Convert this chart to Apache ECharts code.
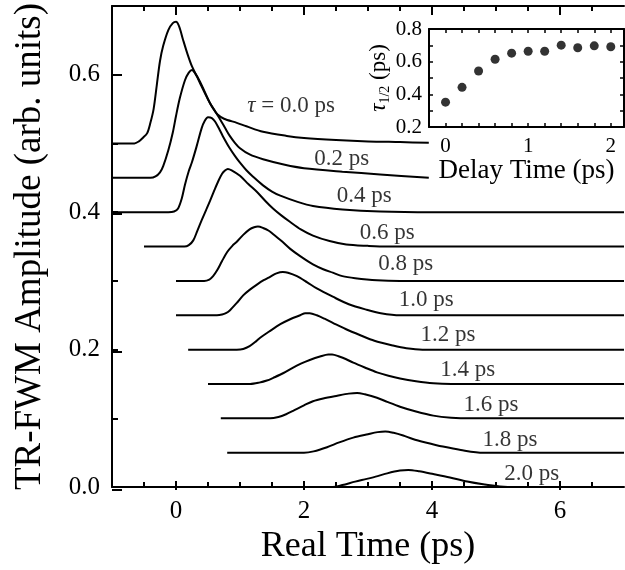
<!DOCTYPE html>
<html><head><meta charset="utf-8">
<script src="https://cdn.jsdelivr.net/npm/echarts@6/dist/echarts.min.js"></script>
<style>html,body{margin:0;padding:0;background:#fff}#c{width:625px;height:570px}</style>
</head><body><div id="c"></div>
<script>
// ---- Data ----
const tau00 = [[-1,0.5],[-0.8,0.5],[-0.65,0.5],[-0.58,0.503],[-0.52,0.508],[-0.45,0.515],[-0.4,0.53],[-0.35,0.55],[-0.3,0.585],[-0.25,0.62],[-0.2,0.642],[-0.12,0.665],[-0.05,0.675],[0,0.677],[0.05,0.67],[0.11,0.651],[0.18,0.63],[0.25,0.612],[0.33,0.597],[0.40,0.583],[0.5,0.564],[0.58,0.551],[0.65,0.542],[0.75,0.536],[0.95,0.530],[1.1,0.525],[1.36,0.517],[1.73,0.511],[2.0,0.508],[2.5,0.505],[3.0,0.503],[3.5,0.502],[3.95,0.501]];
const tau02 = [[-1,0.45],[-0.6,0.45],[-0.4,0.45],[-0.32,0.452],[-0.25,0.458],[-0.2,0.467],[-0.12,0.49],[-0.05,0.516],[0.0,0.54],[0.06,0.566],[0.14,0.592],[0.2,0.603],[0.25,0.607],[0.3,0.602],[0.375,0.59],[0.45,0.575],[0.53,0.559],[0.61,0.547],[0.69,0.535],[0.77,0.522],[0.84,0.511],[0.92,0.501],[1.0,0.493],[1.15,0.484],[1.36,0.477],[1.7,0.469],[2.0,0.464],[2.6,0.459],[3.19,0.455],[3.95,0.45]];
const tau04 = [[-1,0.4],[-0.5,0.4],[-0.12,0.4],[-0.03,0.401],[0.03,0.405],[0.09,0.42],[0.14,0.44],[0.2,0.46],[0.25,0.473],[0.32,0.495],[0.40,0.522],[0.45,0.533],[0.5,0.538],[0.56,0.537],[0.61,0.532],[0.67,0.522],[0.73,0.511],[0.84,0.493],[0.92,0.482],[1.0,0.472],[1.1,0.461],[1.2,0.452],[1.36,0.439],[1.5,0.43],[1.63,0.424],[1.9,0.415],[2.14,0.409],[2.6,0.404],[3.19,0.401],[4,0.4],[5.5,0.4],[7,0.4]];
const tau06 = [[-0.5,0.35],[0,0.35],[0.13,0.35],[0.2,0.352],[0.27,0.359],[0.33,0.372],[0.40,0.388],[0.47,0.403],[0.53,0.416],[0.6,0.432],[0.66,0.445],[0.72,0.456],[0.77,0.461],[0.81,0.463],[0.87,0.461],[1.0,0.453],[1.13,0.441],[1.27,0.429],[1.4,0.416],[1.52,0.405],[1.65,0.395],[1.78,0.386],[1.95,0.375],[2.14,0.366],[2.4,0.358],[2.66,0.353],[3.0,0.351],[3.3,0.35],[5,0.35],[7,0.35]];
const tau08 = [[0,0.3],[0.3,0.3],[0.44,0.3],[0.52,0.302],[0.58,0.307],[0.64,0.315],[0.72,0.329],[0.8,0.342],[0.88,0.351],[0.95,0.357],[1.05,0.367],[1.15,0.375],[1.22,0.378],[1.28,0.379],[1.36,0.377],[1.45,0.373],[1.52,0.368],[1.65,0.358],[1.78,0.347],[1.94,0.336],[2.14,0.324],[2.3,0.317],[2.45,0.312],[2.6,0.307],[2.8,0.304],[3.14,0.301],[3.5,0.3],[5,0.3],[7,0.3]];
const tau10 = [[0,0.25],[0.4,0.25],[0.64,0.25],[0.72,0.251],[0.78,0.253],[0.84,0.257],[0.95,0.268],[1.05,0.279],[1.15,0.287],[1.27,0.295],[1.37,0.301],[1.47,0.306],[1.57,0.311],[1.67,0.313],[1.75,0.312],[1.89,0.307],[2.05,0.298],[2.2,0.289],[2.45,0.277],[2.7,0.266],[2.98,0.258],[3.2,0.253],[3.5,0.25],[5,0.25],[7,0.25]];
const tau12 = [[0.19,0.2],[0.6,0.2],[0.95,0.2],[1.05,0.201],[1.15,0.205],[1.25,0.212],[1.31,0.217],[1.45,0.226],[1.63,0.237],[1.8,0.245],[1.94,0.25],[2.02,0.253],[2.09,0.253],[2.2,0.25],[2.32,0.245],[2.45,0.239],[2.65,0.23],[2.88,0.221],[3.1,0.213],[3.39,0.206],[3.6,0.202],[3.85,0.2],[5.3,0.2],[7,0.2]];
const tau14 = [[0.5,0.15],[0.9,0.15],[1.16,0.15],[1.3,0.152],[1.42,0.155],[1.52,0.159],[1.68,0.166],[1.83,0.174],[1.96,0.18],[2.09,0.185],[2.25,0.19],[2.38,0.193],[2.44,0.193],[2.55,0.19],[2.66,0.186],[2.77,0.181],[2.95,0.174],[3.14,0.167],[3.32,0.162],[3.5,0.158],[3.75,0.154],[4.02,0.151],[4.3,0.15],[5.6,0.15],[7,0.15]];
const tau16 = [[0.7,0.1],[1.1,0.1],[1.47,0.1],[1.6,0.102],[1.72,0.106],[1.83,0.111],[2.0,0.119],[2.14,0.125],[2.3,0.129],[2.52,0.133],[2.7,0.136],[2.83,0.137],[2.95,0.135],[3.14,0.13],[3.3,0.124],[3.5,0.117],[3.75,0.11],[4.02,0.104],[4.3,0.101],[4.6,0.1],[5.8,0.1],[7,0.1]];
const tau18 = [[0.8,0.05],[1.5,0.05],[2.0,0.05],[2.15,0.052],[2.36,0.058],[2.55,0.065],[2.77,0.072],[3.0,0.077],[3.15,0.08],[3.27,0.081],[3.4,0.079],[3.55,0.075],[3.7,0.07],[3.9,0.065],[4.17,0.059],[4.45,0.054],[4.8,0.05],[5.2,0.05],[6.1,0.05],[7,0.05]];
const tau20 = [[1.0,0],[2.0,0],[2.45,0],[2.6,0.003],[2.8,0.008],[2.98,0.012],[3.15,0.016],[3.3,0.02],[3.5,0.024],[3.63,0.025],[3.8,0.023],[4.02,0.019],[4.28,0.014],[4.55,0.008],[4.8,0.004],[5.06,0.001],[5.3,0],[6.2,0],[7,0]];
const curves = [tau00,tau02,tau04,tau06,tau08,tau10,tau12,tau14,tau16,tau18,tau20];

const curveLabels = ['{it|τ} = 0.0 ps','0.2 ps','0.4 ps','0.6 ps','0.8 ps','1.0 ps','1.2 ps','1.4 ps','1.6 ps','1.8 ps','2.0 ps'];
const labelX = [1.80,2.59,2.94,3.30,3.59,3.91,4.25,4.56,4.92,5.22,5.56];
const labelY = [0.555,0.477,0.424,0.370,0.324,0.272,0.221,0.171,0.120,0.069,0.019];

const delayTime = [0,0.2,0.4,0.6,0.8,1.0,1.2,1.4,1.6,1.8,2.0];
const tauHalf   = [0.352,0.443,0.543,0.615,0.652,0.664,0.664,0.701,0.685,0.697,0.691];

const mainXMinorTicks = [-0.5,0,0.5,1,1.5,2,2.5,3,3.5,4,4.5,5,5.5,6,6.5];
const mainXMajorTicks = [0,2,4,6];
const mainYMinorTicks = [0.1,0.2,0.3,0.4,0.5,0.6];
const mainYMajorTicks = [0,0.2,0.4,0.6];
const insetXTicks = [0,0.2,0.4,0.6,0.8,1.0,1.2,1.4,1.6,1.8,2.0];
const insetXLabels = [0,1,2];
const insetYTicks = [0.3,0.4,0.5,0.6,0.7];
const insetYLabels = [0.2,0.4,0.6,0.8];

// ---- Chart ----
const FONT = 'Liberation Serif';
const BLACK = '#000';
const chart = echarts.init(document.getElementById('c'), null, {renderer:'canvas'});

const mainRect = {left:112, right:1, top:6, bottom:80};
const insetRect = {left:429, right:1, top:29, bottom:443};

const series = curves.map((d,i)=>({
  type:'line', xAxisIndex:0, yAxisIndex:0, data:d, showSymbol:false, symbol:'none',
  smooth:0.3,
  lineStyle:{color:BLACK, width:2}, silent:true, z:3
}));
series.push({
  type:'scatter', xAxisIndex:0, yAxisIndex:0, symbolSize:0, silent:true, z:4,
  data: labelX.map((x,i)=>[x,labelY[i],curveLabels[i]]),
  label:{show:true, position:'inside', color:BLACK, fontFamily:FONT, fontSize:23,
    formatter:p=>p.data[2],
    rich:{it:{fontStyle:'italic', fontFamily:FONT, fontSize:23, color:BLACK}}}
});
series.push({
  type:'scatter', xAxisIndex:4, yAxisIndex:2, symbol:'circle', symbolSize:9, silent:true, z:5,
  itemStyle:{color:BLACK}, data: delayTime.map((x,i)=>[x,tauHalf[i]])
});

const lineStyle = {color:BLACK, width:2};
const option = {
  backgroundColor:'#fff',
  animation:false,
  grid:[
    Object.assign({containLabel:false}, mainRect),
    Object.assign({containLabel:false}, mainRect),
    Object.assign({containLabel:false, show:true, backgroundColor:'#fff', borderWidth:0, z:2}, insetRect)
  ],
  xAxis:[
    {gridIndex:0, type:'value', position:'bottom', min:-1, max:7,
     axisLine:{show:true, onZero:false, lineStyle},
     axisTick:{show:true, inside:true, length:5, customValues:mainXMinorTicks, lineStyle:{color:BLACK,width:2}},
     axisLabel:{show:true, customValues:mainXMajorTicks, margin:12, color:BLACK, fontFamily:FONT, fontSize:25, formatter:v=>String(v)},
     splitLine:{show:false},
     name:'Real Time (ps)', nameLocation:'middle', nameGap:41,
     nameTextStyle:{fontFamily:FONT, fontSize:36, color:BLACK}},
    {gridIndex:0, type:'value', position:'top', min:-1, max:7,
     axisLine:{show:true, onZero:false, lineStyle},
     axisTick:{show:true, inside:true, length:5, customValues:mainXMinorTicks, lineStyle:{color:BLACK,width:2}},
     axisLabel:{show:false}, splitLine:{show:false}},
    {gridIndex:1, type:'value', position:'bottom', min:-1, max:7,
     axisLine:{show:false, onZero:false},
     axisTick:{show:true, inside:true, length:9, customValues:mainXMajorTicks, lineStyle:{color:BLACK,width:2}},
     axisLabel:{show:false}, splitLine:{show:false}},
    {gridIndex:1, type:'value', position:'top', min:-1, max:7,
     axisLine:{show:false, onZero:false},
     axisTick:{show:true, inside:true, length:9, customValues:mainXMajorTicks, lineStyle:{color:BLACK,width:2}},
     axisLabel:{show:false}, splitLine:{show:false}},
    {gridIndex:2, type:'value', position:'bottom', min:-0.2, max:2.16, z:6,
     axisLine:{show:true, onZero:false, lineStyle},
     axisTick:{show:true, inside:true, length:4, customValues:insetXTicks, lineStyle:{color:BLACK,width:1.5}},
     axisLabel:{show:true, customValues:insetXLabels, margin:9, color:BLACK, fontFamily:FONT, fontSize:21, formatter:v=>String(v)},
     splitLine:{show:false},
     name:'Delay Time (ps)', nameLocation:'middle', nameGap:26,
     nameTextStyle:{fontFamily:FONT, fontSize:27, color:BLACK}},
    {gridIndex:2, type:'value', position:'top', min:-0.2, max:2.16, z:6,
     axisLine:{show:true, onZero:false, lineStyle},
     axisTick:{show:true, inside:true, length:4, customValues:insetXTicks, lineStyle:{color:BLACK,width:1.5}},
     axisLabel:{show:false}, splitLine:{show:false}}
  ],
  yAxis:[
    {gridIndex:0, type:'value', position:'left', min:0, max:0.7,
     axisLine:{show:true, onZero:false, lineStyle},
     axisTick:{show:true, inside:true, length:6, customValues:mainYMinorTicks, lineStyle:{color:BLACK,width:2}},
     axisLabel:{show:true, customValues:mainYMajorTicks, margin:12, color:BLACK, fontFamily:FONT, fontSize:25, formatter:v=>v.toFixed(1)},
     splitLine:{show:false},
     name:'TR-FWM Amplitude (arb. units)', nameLocation:'middle', nameGap:63,
     nameTextStyle:{fontFamily:FONT, fontSize:37, color:BLACK}},
    {gridIndex:1, type:'value', position:'left', min:0, max:0.7,
     axisLine:{show:false, onZero:false},
     axisTick:{show:true, inside:true, length:10, customValues:mainYMajorTicks, lineStyle:{color:BLACK,width:2}},
     axisLabel:{show:false}, splitLine:{show:false}},
    {gridIndex:2, type:'value', position:'left', min:0.2, max:0.8, z:6,
     axisLine:{show:true, onZero:false, lineStyle},
     axisTick:{show:true, inside:true, length:4, customValues:insetYTicks, lineStyle:{color:BLACK,width:1.5}},
     axisLabel:{show:true, customValues:insetYLabels, margin:7, color:BLACK, fontFamily:FONT, fontSize:21, formatter:v=>v.toFixed(1)},
     splitLine:{show:false},
     name:'{t|τ}{s|1/2} (ps)', nameLocation:'middle', nameGap:36,
     nameTextStyle:{fontFamily:FONT, fontSize:23, color:BLACK,
       rich:{t:{fontFamily:FONT, fontSize:23, fontStyle:'italic', color:BLACK},
             s:{fontFamily:FONT, fontSize:14, color:BLACK, padding:[12,0,0,0]}}}},
    {gridIndex:2, type:'value', position:'right', min:0.2, max:0.8, z:6,
     axisLine:{show:true, onZero:false, lineStyle},
     axisTick:{show:true, inside:true, length:4, customValues:insetYTicks, lineStyle:{color:BLACK,width:1.5}},
     axisLabel:{show:false}, splitLine:{show:false}}
  ],
  series
};
chart.setOption(option);
</script></body></html>
